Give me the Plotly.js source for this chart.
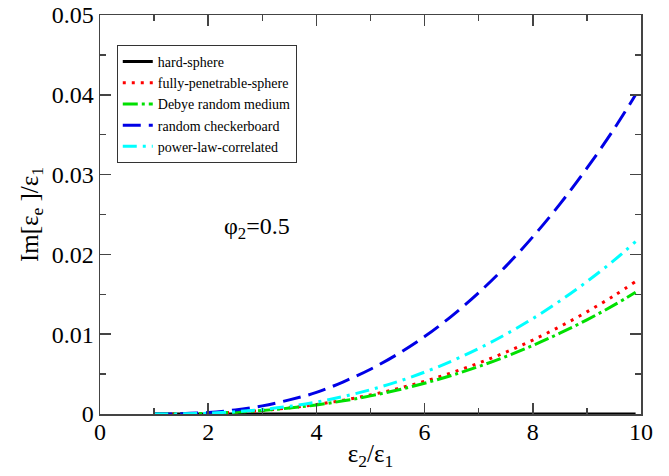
<!DOCTYPE html>
<html>
<head>
<meta charset="utf-8">
<script src="https://cdn.plot.ly/plotly-3.0.1.min.js"></script>
<style>html,body{margin:0;padding:0;background:#fff;}#chart{width:669px;height:476px;}</style>
</head>
<body>
<div id="chart"></div>
<script>
var ratio = [1, 1.5, 2, 2.5, 3, 3.5, 4, 4.5, 5, 5.5, 6, 6.5, 7, 7.5, 8, 8.5, 9, 9.5, 9.9];
var hardSphere = [0,0,0,0,0,0,0,0,0,0,0,0,0,0,0,0,0,0,0];
var fullyPenetrable = [0, 0.000016, 0.00008, 0.00022, 0.00045, 0.00077, 0.00119, 0.00173, 0.00239, 0.00318, 0.0041, 0.00517, 0.00638, 0.00774, 0.00927, 0.01095, 0.0128, 0.01482, 0.0166];
var debye = [0, 0.000016, 0.00008, 0.00022, 0.00044, 0.00074, 0.00114, 0.00165, 0.00227, 0.003, 0.00386, 0.00484, 0.00595, 0.0072, 0.00859, 0.01013, 0.0118, 0.01364, 0.01525];
var checkerboard = [0, 0.00003, 0.00019, 0.00051, 0.00102, 0.00177, 0.0027, 0.00404, 0.00561, 0.0075, 0.0097, 0.01227, 0.0152, 0.0185, 0.0222, 0.0263, 0.0308, 0.0357, 0.040];
var powerLaw = [0, 0.00002, 0.0001, 0.00028, 0.00056, 0.00096, 0.0015, 0.00219, 0.00304, 0.00405, 0.00525, 0.00663, 0.0082, 0.00998, 0.01196, 0.01417, 0.01659, 0.01925, 0.0216];
var names = ["hard-sphere", "fully-penetrable-sphere", "Debye random medium", "random checkerboard", "power-law-correlated"];

var SERIF = "Liberation Serif";

var traces = [
  {x: ratio, y: hardSphere, name: names[0], mode: "lines", line: {color: "#000000", width: 3}},
  {x: ratio, y: fullyPenetrable, name: names[1], mode: "lines", line: {color: "#ff0000", width: 3, dash: "3px,6px", shape: "spline"}},
  {x: ratio, y: debye, name: names[2], mode: "lines", line: {color: "#00e000", width: 3, dash: "15px,4px,3px,4px", shape: "spline"}},
  {x: ratio, y: checkerboard, name: names[3], mode: "lines", line: {color: "#0000e6", width: 3, dash: "18px,8px", shape: "spline"}},
  {x: ratio, y: powerLaw, name: names[4], mode: "lines", line: {color: "#00ffff", width: 3, dash: "14px,6px,3px,6px", shape: "spline"}}
];
traces.forEach(function(t){ t.cliponaxis = false; });

var axisCommon = {
  showgrid: false, zeroline: false, showline: true, linecolor: "#444", linewidth: 1.5,
  mirror: "ticks", ticks: "inside", ticklen: 11, tickwidth: 1.5, tickcolor: "#444",
  tickfont: {family: SERIF, size: 24, color: "#000"}
};

var layout = {
  width: 669, height: 476,
  font: {family: SERIF, color: "#000"},
  margin: {l: 100, r: 28, t: 15, b: 62},
  paper_bgcolor: "#fff", plot_bgcolor: "#fff",
  showlegend: true,
  legend: {
    x: 0.031, y: 0.925, xanchor: "left", yanchor: "top",
    bgcolor: "#fff", bordercolor: "#333", borderwidth: 1,
    font: {family: SERIF, size: 14, color: "#000"},
    tracegroupgap: 0
  },
  xaxis: Object.assign({}, axisCommon, {
    range: [0, 10], dtick: 2, tick0: 0, ticklabelstandoff: -4,
    minor: {dtick: 1, ticks: "inside", ticklen: 6, tickwidth: 1.5, tickcolor: "#444"},
    title: {text: "ε<sub>2</sub>/ε<sub>1</sub>", font: {family: SERIF, size: 25, color: "#000"}, standoff: 0}
  }),
  yaxis: Object.assign({}, axisCommon, {
    range: [0, 0.05], dtick: 0.01, tick0: 0,
    minor: {dtick: 0.005, ticks: "inside", ticklen: 6, tickwidth: 1.5, tickcolor: "#444"},
    title: {text: "Im[ε<sub>e</sub> ]/ε<sub>1</sub>", font: {family: SERIF, size: 25, color: "#000"}, standoff: 6}
  }),
  annotations: [{
    x: 2.91, y: 0.0233, xref: "x", yref: "y", showarrow: false,
    text: "φ<sub>2</sub>=0.5", font: {family: SERIF, size: 24, color: "#000"}
  }]
};

Plotly.newPlot("chart", traces, layout, {displayModeBar: false, staticPlot: true});
</script>
</body>
</html>
